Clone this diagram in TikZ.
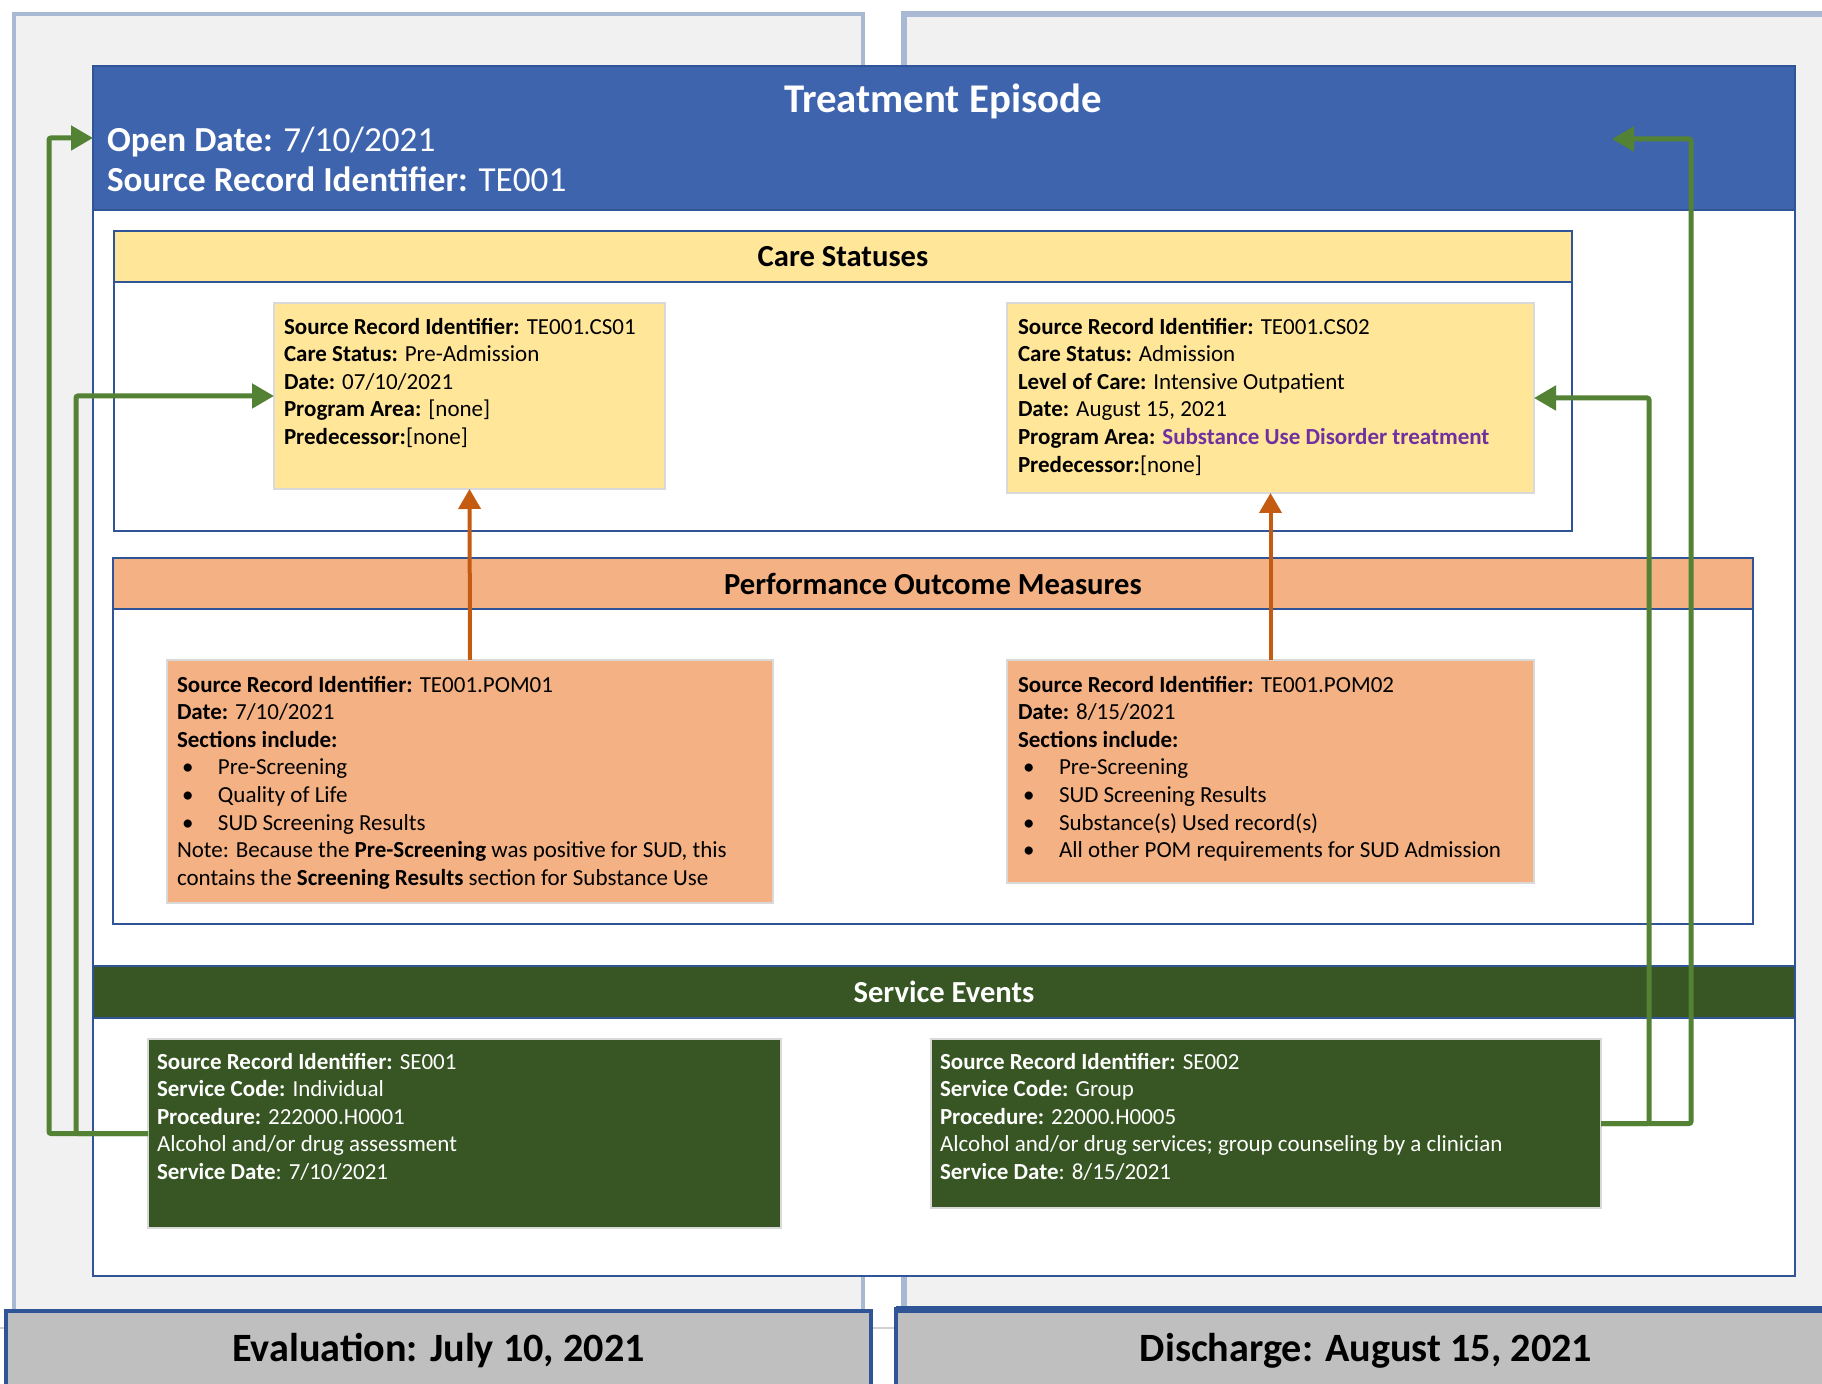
\documentclass[tikz,border=0pt]{standalone}
\usepackage{fontspec}
\setmainfont{Carlito}
\usetikzlibrary{arrows.meta}

\definecolor{panelgray}{HTML}{F1F1F1}
\definecolor{panelline}{HTML}{A9B9D4}
\definecolor{teblue}{HTML}{3F64AE}
\definecolor{frameblue}{HTML}{2F5597}
\definecolor{csyellow}{HTML}{FFE699}
\definecolor{pomorange}{HTML}{F4B183}
\definecolor{sedark}{HTML}{375623}
\definecolor{linkgreen}{HTML}{548235}
\definecolor{linkorange}{HTML}{C55A11}
\definecolor{datebar}{HTML}{BFBFBF}
\definecolor{progpurple}{HTML}{7030A0}

\newcommand{\recfont}{\fontsize{11.5}{13.8}\selectfont}
\newcommand{\itembul}{\hspace*{2.5pt}\makebox[18pt][l]{\textbullet}}

\begin{document}
\begin{tikzpicture}[x=0.5pt,y=-0.5pt,
    boxsize/.style 2 args={minimum width=#1*0.5pt,minimum height=#2*0.5pt}]
\useasboundingbox (0,0) rectangle (1822,1384);
\begin{scope}[every node/.style={anchor=north west,inner sep=0pt,outer sep=0pt},
              panel/.style={draw=panelline,fill=panelgray,line width=2pt},
              frame/.style={draw=frameblue,line width=1pt},
              rec/.style={draw=black!15,line width=0.8pt},
              rectext/.style={font=\recfont,align=left},
              title/.style={font=\fontsize{15.3}{17}\selectfont\bfseries},
              datebox/.style={draw=frameblue,fill=datebar,line width=2pt,
                              font=\fontsize{20.1}{22}\selectfont\bfseries}]

    \node[panel,boxsize={849}{1297}] (P1) at (14,14) {};
    \node[panel,boxsize={940}{1295},line width=3pt] (P2) at (904,14) {};
    \draw[black!18,line width=1pt] (0,1328) -- (1822,1328);

    \node[frame,fill=white,boxsize={1702}{1066}] (TB) at (93,210) {};
    \node[frame,fill=teblue,boxsize={1702}{144}] (TE) at (93,66) {};
    \node[anchor=center,text=white,font=\fontsize{20.4}{22}\selectfont\bfseries] (TT)
        at (943,101) {Treatment Episode};
    \node[anchor=west,text=white,font=\fontsize{17.6}{20}\selectfont] (OD)
        at (107,142) {\textbf{Open Date:} 7/10/2021};
    \node[anchor=west,text=white,font=\fontsize{17.6}{20}\selectfont] (SR)
        at (107,179) {\textbf{Source Record Identifier:} TE001};

    \node[frame,fill=white,boxsize={1458}{249}] (CB) at (114,282) {};
    \node[frame,fill=csyellow,boxsize={1458}{51},title] (CH) at (114,231) {Care Statuses};

    \node[rec,fill=csyellow,boxsize={391}{186}] (C1) at (274,303) {};
    \node[rectext] (C1T) at (284,318)
        {\textbf{Source Record Identifier:} TE001.CS01\\
         \textbf{Care Status:} Pre-Admission\\
         \textbf{Date:} 07/10/2021\\
         \textbf{Program Area:} [none]\\
         \textbf{Predecessor:}[none]};

    \node[rec,fill=csyellow,boxsize={527}{190}] (C2) at (1007,303) {};
    \node[rectext] (C2T) at (1018,318)
        {\textbf{Source Record Identifier:} TE001.CS02\\
         \textbf{Care Status:} Admission\\
         \textbf{Level of Care:} Intensive Outpatient\\
         \textbf{Date:} August 15, 2021\\
         \textbf{Program Area:} \textcolor{progpurple}{\textbf{Substance Use Disorder treatment}}\\
         \textbf{Predecessor:}[none]};

    \node[frame,fill=white,boxsize={1640}{315}] (PB) at (113,609) {};
    \node[frame,fill=pomorange,boxsize={1640}{51},title] (PH) at (113,558)
        {Performance Outcome Measures};

    \node[rec,fill=pomorange,boxsize={606}{243}] (M1) at (167,660) {};
    \node[rectext] (M1T) at (177,676)
        {\textbf{Source Record Identifier:} TE001.POM01\\
         \textbf{Date:} 7/10/2021\\
         \textbf{Sections include:}\\
         \itembul Pre-Screening\\
         \itembul Quality of Life\\
         \itembul SUD Screening Results\\
         Note: Because the \textbf{Pre-Screening} was positive for SUD, this\\
         contains the \textbf{Screening Results} section for Substance Use};

    \node[rec,fill=pomorange,boxsize={527}{223}] (M2) at (1007,660) {};
    \node[rectext] (M2T) at (1018,676)
        {\textbf{Source Record Identifier:} TE001.POM02\\
         \textbf{Date:} 8/15/2021\\
         \textbf{Sections include:}\\
         \itembul Pre-Screening\\
         \itembul SUD Screening Results\\
         \itembul Substance(s) Used record(s)\\
         \itembul All other POM requirements for SUD Admission};

    \node[frame,fill=sedark,text=white,boxsize={1702}{52},title] (SH) at (93,966)
        {Service Events};

    \node[rec,fill=sedark,boxsize={633}{189}] (S1) at (148,1039) {};
    \node[rectext,text=white] (S1T) at (157,1053)
        {\textbf{Source Record Identifier:} SE001\\
         \textbf{Service Code:} Individual\\
         \textbf{Procedure:} 222000.H0001\\
         Alcohol and/or drug assessment\\
         \textbf{Service Date}: 7/10/2021};

    \node[rec,fill=sedark,boxsize={670}{169}] (S2) at (931,1039) {};
    \node[rectext,text=white] (S2T) at (940,1053)
        {\textbf{Source Record Identifier:} SE002\\
         \textbf{Service Code:} Group\\
         \textbf{Procedure:} 22000.H0005\\
         Alcohol and/or drug services; group counseling by a clinician\\
         \textbf{Service Date}: 8/15/2021};

    \node[datebox,boxsize={865}{80}] (EV) at (6,1311) {Evaluation: July 10, 2021};
    \node[datebox,boxsize={940}{84}] (DC) at (896,1309) {Discharge: August 15, 2021};
    \draw[frameblue,line width=3.5pt] (DC.north west) -- (DC.north east);

\end{scope}

\begin{scope}[every edge/.style={draw=linkorange,line width=2pt},
              greenlink/.style={draw=linkgreen,line width=2.5pt,rounded corners=1pt,
                                -{Triangle[length=11pt,width=12pt]}}]

    \coordinate (TR) at (1612,139);

    \path[-{Triangle[length=10pt,width=11pt]}] (M1.north) edge (C1.south);
    \path[-{Triangle[length=10pt,width=11pt]}] (M2.north) edge (C2.south);

    \draw[greenlink] (S1.west) -- ++(-99,0) |- (TE.west);
    \draw[greenlink] (S1.west) -- ++(-72,0) |- (C1.west);
    \draw[greenlink] (S2.east) -- ++(90,0) |- (TR);
    \draw[greenlink] (S2.east) -- ++(48,0) |- (C2.east);

\end{scope}

\end{tikzpicture}
\end{document}
